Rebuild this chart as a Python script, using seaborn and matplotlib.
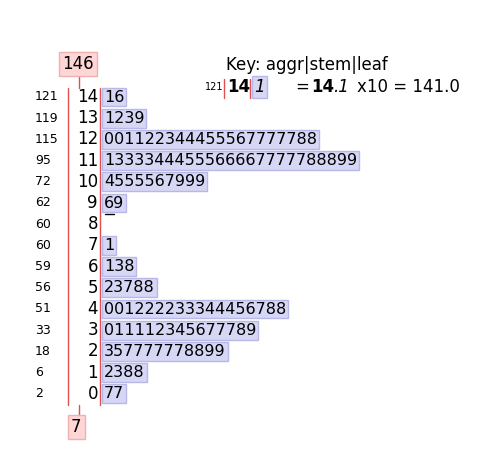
import matplotlib
matplotlib.use("Agg")
import matplotlib.pyplot as plt
import seaborn as sns

sns.set_style("white")
plt.rcParams['font.family'] = ['DejaVu Sans']
plt.rcParams['text.color'] = 'black'

# stem-and-leaf data
stems = [14, 13, 12, 11, 10, 9, 8, 7, 6, 5, 4, 3, 2, 1, 0]
leaves = ["16", "1239", "001122344455567777788", "1333344455566667777788899",
          "4555567999", "69", "", "1", "138", "23788", "001222233344456788",
          "011112345677789", "357777778899", "2388", "77"]
aggr = [121, 119, 115, 95, 72, 62, 60, 60, 59, 56, 51, 33, 18, 6, 2]
total_top = 146
total_bottom = 7

fig = plt.figure(figsize=(5, 4.5), dpi=100)
ax = fig.add_axes([0, 0, 1, 1])
ax.set_xlim(0, 500)
ax.set_ylim(450, 0)
ax.axis("off")

y0, dy = 97, 21.2
leaf_box = dict(boxstyle="square,pad=0.12", fc="#d6d6f5", ec="#b8b8e8", lw=1)
for i, (s, lf, a) in enumerate(zip(stems, leaves, aggr)):
    y = y0 + i * dy
    ax.text(35, y, str(a), fontsize=9, ha="left", va="center")
    ax.text(98, y, str(s), fontsize=12, ha="right", va="center")
    if lf:
        ax.text(104, y, lf, fontsize=11.5, ha="left", va="center", bbox=leaf_box)

# underline on the median leaf
ax.plot([105, 114], [214, 214], color="k", lw=1)

ax.plot([68, 68], [88, 405], color="#e05050", lw=1)
ax.plot([100, 100], [88, 405], color="#e05050", lw=1)
ax.plot([79, 79], [76, 88], color="#e05050", lw=1)
ax.plot([79, 79], [405, 416], color="#e05050", lw=1)

red_box = dict(boxstyle="square,pad=0.2", fc="#ffd6d6", ec="#f0b0b0", lw=1)
ax.text(62, 64, str(total_top), fontsize=12, ha="left", va="center", bbox=red_box)
ax.text(71, 427, str(total_bottom), fontsize=12, ha="left", va="center", bbox=red_box)

# key
ax.text(226, 65, "Key: aggr|stem|leaf", fontsize=12, ha="left", va="center")
ax.text(205, 87, "121", fontsize=7, ha="left", va="center")
ax.plot([224, 224], [79, 98], color="#e05050", lw=1)
ax.text(227, 87, "14", fontsize=12, fontweight="bold", ha="left", va="center")
ax.plot([250, 250], [79, 98], color="#e05050", lw=1)
ax.text(254, 87, "1", fontsize=12, style="italic", ha="left", va="center", bbox=leaf_box)
ax.text(295, 87, "=", fontsize=12, ha="left", va="center")
ax.text(311, 87, "14", fontsize=12, fontweight="bold", ha="left", va="center")
ax.text(333, 87, ".1", fontsize=12, style="italic", ha="left", va="center")
ax.text(357, 87, "x10 = 141.0", fontsize=12, ha="left", va="center")

fig.savefig("out.png", dpi=100)
